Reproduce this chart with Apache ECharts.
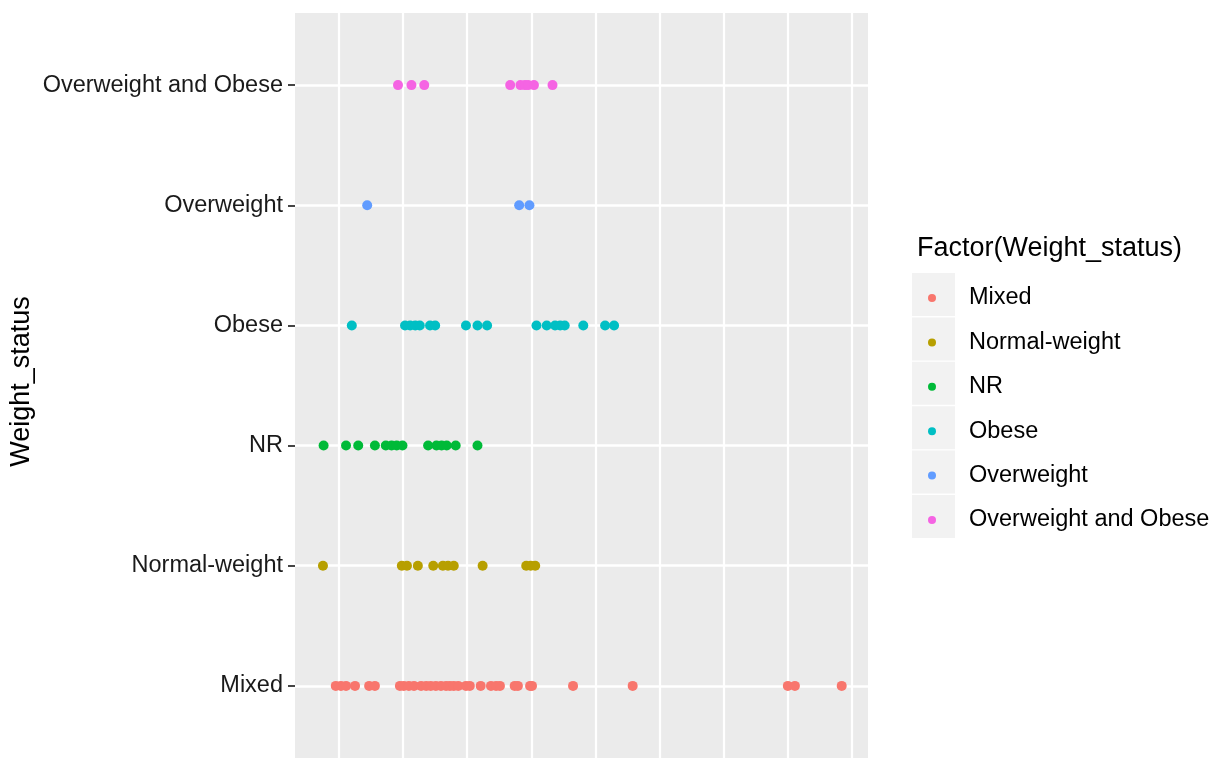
<!DOCTYPE html>
<html>
<head>
<meta charset="utf-8">
<script src="https://cdn.jsdelivr.net/npm/echarts@6/dist/echarts.min.js"></script>
<style>
html,body{margin:0;padding:0;background:#fff;}
#chart{width:1219px;height:758px;}
</style>
</head>
<body>
<div id="chart"></div>
<script>
// Categories (bottom to top on the y axis)
var categories = ['Mixed', 'Normal-weight', 'NR', 'Obese', 'Overweight', 'Overweight and Obese'];
var colors = ['#F8766D', '#B79F00', '#00BA38', '#00BFC4', '#619CFF', '#F564E3'];

// x values (gridlines at integer positions)
var mixedX = [0.95, 1.03, 1.11, 1.25, 1.47, 1.56, 1.95, 2.01, 2.09, 2.17, 2.28, 2.36, 2.43, 2.51, 2.59, 2.67, 2.73, 2.79, 2.86, 2.98, 3.04, 3.21, 3.37, 3.45, 3.51, 3.74, 3.79, 3.98, 4.01, 4.65, 5.58, 8.00, 8.11, 8.84];
var normalX = [0.75, 1.98, 2.06, 2.23, 2.47, 2.62, 2.70, 2.79, 3.24, 3.92, 3.99, 4.06];
var nrX = [0.76, 1.11, 1.30, 1.56, 1.73, 1.82, 1.90, 1.99, 2.39, 2.52, 2.60, 2.68, 2.82, 3.16];
var obeseX = [1.20, 2.03, 2.11, 2.19, 2.26, 2.42, 2.50, 2.98, 3.16, 3.31, 4.08, 4.24, 4.37, 4.45, 4.52, 4.81, 5.15, 5.29];
var overweightX = [1.44, 3.81, 3.97];
var owObeseX = [1.92, 2.13, 2.33, 3.67, 3.83, 3.90, 3.95, 4.04, 4.33];

var seriesX = [mixedX, normalX, nrX, obeseX, overweightX, owObeseX];
var xGrid = [1, 2, 3, 4, 5, 6, 7, 8, 9];
var yTicks = [0, 1, 2, 3, 4, 5];

var textFont = 'Liberation Sans, Arial, sans-serif';

var series = categories.map(function (name, i) {
  return {
    name: name,
    type: 'scatter',
    symbol: 'circle',
    symbolSize: 10,
    itemStyle: { color: colors[i], opacity: 1 },
    emphasis: { disabled: true },
    z: 5,
    data: seriesX[i].map(function (x) { return [x, i]; })
  };
});

// key backgrounds for the legend
var keyRects = categories.map(function (c, i) {
  return {
    type: 'rect',
    left: 912,
    top: 273 + i * 44.4,
    shape: { width: 43, height: 43 },
    style: { fill: '#f2f2f2' },
    z: -1
  };
});

var chart = echarts.init(document.getElementById('chart'), null, { renderer: 'canvas' });
chart.setOption({
  animation: false,
  backgroundColor: '#ffffff',
  title: {
    text: 'Factor(Weight_status)',
    left: 917,
    top: 235,
    padding: 0,
    textStyle: { fontFamily: textFont, fontSize: 27, fontWeight: 'normal', color: '#000' }
  },
  legend: {
    orient: 'vertical',
    left: 928,
    top: 276,
    padding: 0,
    itemGap: 0.4,
    itemWidth: 8,
    itemHeight: 8,
    icon: 'circle',
    selectedMode: false,
    data: categories,
    textStyle: { fontFamily: textFont, fontSize: 23.5, color: '#000', lineHeight: 44, padding: [0, 0, 0, 28] }
  },
  graphic: keyRects,
  grid: {
    left: 295,
    right: 351,
    top: 13,
    bottom: 0,
    show: true,
    backgroundColor: '#ebebeb',
    borderWidth: 0
  },
  xAxis: {
    type: 'value',
    min: 0.314,
    max: 9.25,
    axisLine: { show: false },
    axisTick: { show: false, customValues: xGrid },
    axisLabel: { show: false, customValues: xGrid },
    splitLine: { show: true, lineStyle: { color: '#ffffff', width: 2.2 } }
  },
  yAxis: {
    type: 'value',
    min: -0.6,
    max: 5.6,
    name: 'Weight_status',
    nameLocation: 'middle',
    nameRotate: 90,
    nameGap: 260,
    nameTextStyle: { fontFamily: textFont, fontSize: 27, color: '#000', padding: [0, 0, 0, 8] },
    axisLine: { show: false },
    axisTick: { show: true, length: 7, customValues: yTicks, lineStyle: { color: '#444', width: 2 } },
    axisLabel: {
      customValues: yTicks,
      margin: 12,
      fontFamily: textFont,
      fontSize: 23.5,
      color: '#1a1a1a',
      formatter: function (v) { return categories[Math.round(v)]; }
    },
    splitLine: { show: true, lineStyle: { color: '#ffffff', width: 2.5 } }
  },
  series: series
});
</script>
</body>
</html>
